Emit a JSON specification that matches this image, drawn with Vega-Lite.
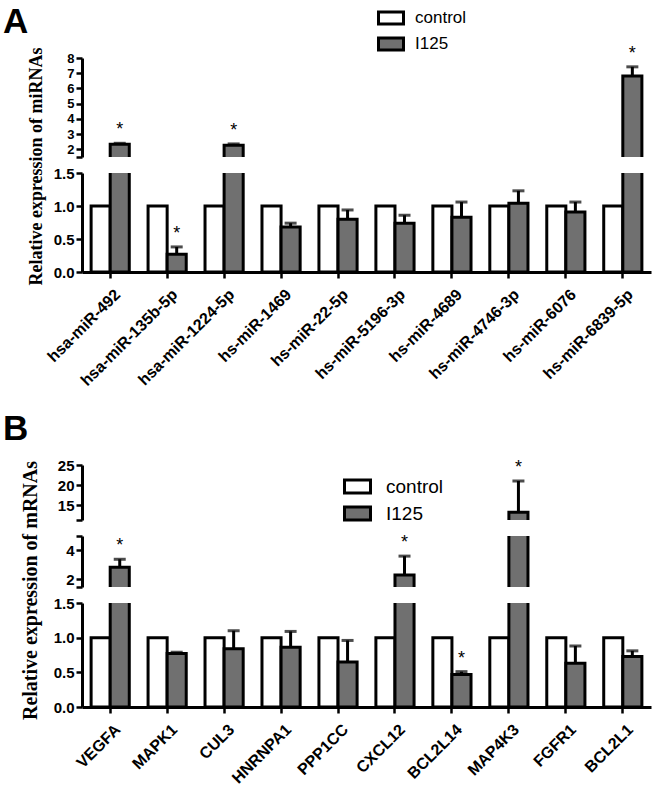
{
"$schema": "https://vega.github.io/schema/vega-lite/v6.json",
"padding": {"left": 3, "top": 4, "right": 2, "bottom": 2},
"config": {
 "view": {"stroke": null},
 "font": "Liberation Sans",
 "axis": {"grid": false, "domainColor": "black", "domainWidth": 3, "tickColor": "black", "tickWidth": 2.5, "tickSize": 6, "labelColor": "black", "labelFont": "Liberation Sans", "labelFontWeight": "bold", "labelFontSize": 15, "labelPadding": 2, "labelOverlap": false, "labelFlush": false}
},
"data": {"values": [
 {"panel": "A", "gene": "hsa-miR-492", "group": "control", "value": 1},
 {"panel": "A", "gene": "hsa-miR-492", "group": "I125", "value": 2.33, "upper": 2.4, "sig": 1},
 {"panel": "A", "gene": "hsa-miR-135b-5p", "group": "control", "value": 1},
 {"panel": "A", "gene": "hsa-miR-135b-5p", "group": "I125", "value": 0.27, "upper": 0.38, "sig": 1},
 {"panel": "A", "gene": "hsa-miR-1224-5p", "group": "control", "value": 1},
 {"panel": "A", "gene": "hsa-miR-1224-5p", "group": "I125", "value": 2.27, "upper": 2.36, "sig": 1},
 {"panel": "A", "gene": "hs-miR-1469", "group": "control", "value": 1},
 {"panel": "A", "gene": "hs-miR-1469", "group": "I125", "value": 0.68, "upper": 0.74},
 {"panel": "A", "gene": "hs-miR-22-5p", "group": "control", "value": 1},
 {"panel": "A", "gene": "hs-miR-22-5p", "group": "I125", "value": 0.8, "upper": 0.94},
 {"panel": "A", "gene": "hs-miR-5196-3p", "group": "control", "value": 1},
 {"panel": "A", "gene": "hs-miR-5196-3p", "group": "I125", "value": 0.74, "upper": 0.86},
 {"panel": "A", "gene": "hs-miR-4689", "group": "control", "value": 1},
 {"panel": "A", "gene": "hs-miR-4689", "group": "I125", "value": 0.83, "upper": 1.06},
 {"panel": "A", "gene": "hs-miR-4746-3p", "group": "control", "value": 1},
 {"panel": "A", "gene": "hs-miR-4746-3p", "group": "I125", "value": 1.04, "upper": 1.23},
 {"panel": "A", "gene": "hs-miR-6076", "group": "control", "value": 1},
 {"panel": "A", "gene": "hs-miR-6076", "group": "I125", "value": 0.91, "upper": 1.06},
 {"panel": "A", "gene": "hs-miR-6839-5p", "group": "control", "value": 1},
 {"panel": "A", "gene": "hs-miR-6839-5p", "group": "I125", "value": 6.81, "upper": 7.42, "sig": 1},
 {"panel": "B", "gene": "VEGFA", "group": "control", "value": 1},
 {"panel": "B", "gene": "VEGFA", "group": "I125", "value": 2.83, "upper": 3.38, "sig": 1},
 {"panel": "B", "gene": "MAPK1", "group": "control", "value": 1},
 {"panel": "B", "gene": "MAPK1", "group": "I125", "value": 0.77, "upper": 0.79},
 {"panel": "B", "gene": "CUL3", "group": "control", "value": 1},
 {"panel": "B", "gene": "CUL3", "group": "I125", "value": 0.84, "upper": 1.1},
 {"panel": "B", "gene": "HNRNPA1", "group": "control", "value": 1},
 {"panel": "B", "gene": "HNRNPA1", "group": "I125", "value": 0.86, "upper": 1.09},
 {"panel": "B", "gene": "PPP1CC", "group": "control", "value": 1},
 {"panel": "B", "gene": "PPP1CC", "group": "I125", "value": 0.65, "upper": 0.96},
 {"panel": "B", "gene": "CXCL12", "group": "control", "value": 1},
 {"panel": "B", "gene": "CXCL12", "group": "I125", "value": 2.28, "upper": 3.6, "sig": 1},
 {"panel": "B", "gene": "BCL2L14", "group": "control", "value": 1},
 {"panel": "B", "gene": "BCL2L14", "group": "I125", "value": 0.47, "upper": 0.51, "sig": 1},
 {"panel": "B", "gene": "MAP4K3", "group": "control", "value": 1},
 {"panel": "B", "gene": "MAP4K3", "group": "I125", "value": 13.2, "upper": 21.0, "sig": 1},
 {"panel": "B", "gene": "FGFR1", "group": "control", "value": 1},
 {"panel": "B", "gene": "FGFR1", "group": "I125", "value": 0.63, "upper": 0.88},
 {"panel": "B", "gene": "BCL2L1", "group": "control", "value": 1},
 {"panel": "B", "gene": "BCL2L1", "group": "I125", "value": 0.73, "upper": 0.81}
]},
"bounds": "flush",
"spacing": 16,
"resolve": {"scale": {"x": "independent", "y": "independent", "fill": "independent"}, "legend": {"fill": "independent"}, "axis": {"x": "independent", "y": "independent"}},
"vconcat": [
 {
  "width": 569, "height": 99,
  "title": {"text": "A", "anchor": "start", "frame": "group", "dx": -79, "offset": -23, "fontSize": 35, "font": "Liberation Sans", "fontWeight": "bold", "color": "black", "baseline": "alphabetic"},
  "transform": [{"filter": "datum.panel == 'A'"}],
  "encoding": {
   "x": {"field": "gene", "type": "nominal", "sort": null, "scale": {"paddingInner": 0.33, "paddingOuter": 0.16}, "axis": null},
   "xOffset": {"field": "group", "type": "nominal", "scale": {"domain": ["control", "I125"]}}
  },
  "layer": [
   {"mark": {"type": "bar", "clip": true, "stroke": "black", "strokeWidth": 3},
    "encoding": {
     "y": {"field": "value", "type": "quantitative", "scale": {"domain": [1.5, 8], "nice": false, "zero": false}, "axis": {"title": null, "values": [1.5, 2, 3, 4, 5, 6, 7, 8], "labelExpr": "datum.value == 1.5 ? '' : datum.label", "labelFontSize": 13}},
     "y2": {"datum": 0},
     "fill": {"field": "group", "type": "nominal", "scale": {"domain": ["control", "I125"], "range": ["#ffffff", "#707070"]}, "legend": null}}},
   {"transform": [{"filter": "datum.group == 'I125'"}],
    "mark": {"type": "rule", "clip": true, "color": "black", "strokeWidth": 3},
    "encoding": {"y": {"field": "value", "type": "quantitative", "axis": {"title": null, "values": [1.5, 2, 3, 4, 5, 6, 7, 8], "labelExpr": "datum.value == 1.5 ? '' : datum.label", "labelFontSize": 13}}, "y2": {"field": "upper"}}},
   {"transform": [{"filter": "datum.group == 'I125'"}],
    "mark": {"type": "tick", "clip": true, "color": "black", "thickness": 3, "size": 12, "orient": "horizontal"},
    "encoding": {"y": {"field": "upper", "type": "quantitative", "axis": {"title": null, "values": [1.5, 2, 3, 4, 5, 6, 7, 8], "labelExpr": "datum.value == 1.5 ? '' : datum.label", "labelFontSize": 13}}}},
   {"transform": [{"filter": "datum.sig == 1 && datum.upper >= 1.5 && datum.upper <= 8"}],
    "mark": {"type": "text", "text": "*", "fontSize": 18, "baseline": "alphabetic", "dy": -8, "font": "Liberation Sans", "color": "black"},
    "encoding": {"y": {"field": "upper", "type": "quantitative", "axis": {"title": null, "values": [1.5, 2, 3, 4, 5, 6, 7, 8], "labelExpr": "datum.value == 1.5 ? '' : datum.label", "labelFontSize": 13}}}}
  ]
 },
 {
  "width": 569, "height": 99,
  "transform": [{"filter": "datum.panel == 'A'"}],
  "encoding": {
   "x": {"field": "gene", "type": "nominal", "sort": null, "scale": {"paddingInner": 0.33, "paddingOuter": 0.16}, "axis": {"title": null, "labelAngle": -45, "labelAlign": "right", "labelBaseline": "top", "labelPadding": 8, "labelOffset": 2, "labelLimit": 0, "labelFontSize": 16}},
   "xOffset": {"field": "group", "type": "nominal", "scale": {"domain": ["control", "I125"]}}
  },
  "layer": [
   {"mark": {"type": "bar", "clip": true, "stroke": "black", "strokeWidth": 3},
    "encoding": {
     "y": {"field": "value", "type": "quantitative", "scale": {"domain": [0, 1.5], "nice": false, "zero": false}, "axis": {"title": "Relative expression of miRNAs", "values": [0, 0.5, 1, 1.5], "format": ".1f", "titleFont": "Liberation Serif", "titleFontSize": 18, "titleFontWeight": "bold", "titleColor": "black", "titleAngle": 270, "titleAlign": "center", "titleBaseline": "middle", "titleX": -46, "titleY": -7}},
     "y2": {"datum": 0},
     "fill": {"field": "group", "type": "nominal", "scale": {"domain": ["control", "I125"], "range": ["#ffffff", "#707070"]},
      "legend": {"title": null, "orient": "none", "legendX": 295, "legendY": -169, "symbolType": "M-1,-0.48H1V0.48H-1Z", "symbolSize": 625, "symbolStrokeColor": "black", "symbolStrokeWidth": 3, "labelFont": "Liberation Sans", "labelFontSize": 17, "labelColor": "black", "labelOffset": 10, "rowPadding": -6, "padding": 0}}}},
   {"transform": [{"filter": "datum.group == 'I125'"}],
    "mark": {"type": "rule", "clip": true, "color": "black", "strokeWidth": 3},
    "encoding": {"y": {"field": "value", "type": "quantitative", "axis": {"title": "Relative expression of miRNAs", "values": [0, 0.5, 1, 1.5], "format": ".1f", "titleFont": "Liberation Serif", "titleFontSize": 18, "titleFontWeight": "bold", "titleColor": "black", "titleAngle": 270, "titleAlign": "center", "titleBaseline": "middle", "titleX": -46, "titleY": -7}}, "y2": {"field": "upper"}}},
   {"transform": [{"filter": "datum.group == 'I125'"}],
    "mark": {"type": "tick", "clip": true, "color": "black", "thickness": 3, "size": 12, "orient": "horizontal"},
    "encoding": {"y": {"field": "upper", "type": "quantitative", "axis": {"title": "Relative expression of miRNAs", "values": [0, 0.5, 1, 1.5], "format": ".1f", "titleFont": "Liberation Serif", "titleFontSize": 18, "titleFontWeight": "bold", "titleColor": "black", "titleAngle": 270, "titleAlign": "center", "titleBaseline": "middle", "titleX": -46, "titleY": -7}}}},
   {"transform": [{"filter": "datum.sig == 1 && datum.upper >= 0 && datum.upper <= 1.5"}],
    "mark": {"type": "text", "text": "*", "fontSize": 18, "baseline": "alphabetic", "dy": -8, "font": "Liberation Sans", "color": "black"},
    "encoding": {"y": {"field": "upper", "type": "quantitative", "axis": {"title": "Relative expression of miRNAs", "values": [0, 0.5, 1, 1.5], "format": ".1f", "titleFont": "Liberation Serif", "titleFontSize": 18, "titleFontWeight": "bold", "titleColor": "black", "titleAngle": 270, "titleAlign": "center", "titleBaseline": "middle", "titleX": -46, "titleY": -7}}}}
  ]
 },
 {
  "width": 569, "height": 161,
  "data": {"values": [{"k": 0}]},
  "mark": {"type": "point", "opacity": 0},
  "encoding": {}
 },
 {
  "width": 569, "height": 55,
  "title": {"text": "B", "anchor": "start", "frame": "group", "dx": -79, "offset": -17, "fontSize": 35, "font": "Liberation Sans", "fontWeight": "bold", "color": "black", "baseline": "alphabetic"},
  "transform": [{"filter": "datum.panel == 'B'"}],
  "encoding": {
   "x": {"field": "gene", "type": "nominal", "sort": null, "scale": {"paddingInner": 0.33, "paddingOuter": 0.16}, "axis": null},
   "xOffset": {"field": "group", "type": "nominal", "scale": {"domain": ["control", "I125"]}}
  },
  "layer": [
   {"mark": {"type": "bar", "clip": true, "stroke": "black", "strokeWidth": 3},
    "encoding": {
     "y": {"field": "value", "type": "quantitative", "scale": {"domain": [11.25, 25], "nice": false, "zero": false}, "axis": {"title": null, "values": [11.25, 15, 20, 25], "labelExpr": "datum.value == 11.25 ? '' : datum.label"}},
     "y2": {"datum": 0},
     "fill": {"field": "group", "type": "nominal", "scale": {"domain": ["control", "I125"], "range": ["#ffffff", "#707070"]}, "legend": null}}},
   {"transform": [{"filter": "datum.group == 'I125'"}],
    "mark": {"type": "rule", "clip": true, "color": "black", "strokeWidth": 3},
    "encoding": {"y": {"field": "value", "type": "quantitative", "axis": {"title": null, "values": [11.25, 15, 20, 25], "labelExpr": "datum.value == 11.25 ? '' : datum.label"}}, "y2": {"field": "upper"}}},
   {"transform": [{"filter": "datum.group == 'I125'"}],
    "mark": {"type": "tick", "clip": true, "color": "black", "thickness": 3, "size": 12, "orient": "horizontal"},
    "encoding": {"y": {"field": "upper", "type": "quantitative", "axis": {"title": null, "values": [11.25, 15, 20, 25], "labelExpr": "datum.value == 11.25 ? '' : datum.label"}}}},
   {"transform": [{"filter": "datum.sig == 1 && datum.upper >= 11.25 && datum.upper <= 25"}],
    "mark": {"type": "text", "text": "*", "fontSize": 18, "baseline": "alphabetic", "dy": -8, "font": "Liberation Sans", "color": "black"},
    "encoding": {"y": {"field": "upper", "type": "quantitative", "axis": {"title": null, "values": [11.25, 15, 20, 25], "labelExpr": "datum.value == 11.25 ? '' : datum.label"}}}}
  ]
 },
 {
  "width": 569, "height": 51,
  "transform": [{"filter": "datum.panel == 'B'"}],
  "encoding": {
   "x": {"field": "gene", "type": "nominal", "sort": null, "scale": {"paddingInner": 0.33, "paddingOuter": 0.16}, "axis": null},
   "xOffset": {"field": "group", "type": "nominal", "scale": {"domain": ["control", "I125"]}}
  },
  "layer": [
   {"mark": {"type": "bar", "clip": true, "stroke": "black", "strokeWidth": 3},
    "encoding": {
     "y": {"field": "value", "type": "quantitative", "scale": {"domain": [1.45, 5], "nice": false, "zero": false}, "axis": {"title": null, "values": [1.45, 2, 4, 5], "labelExpr": "datum.value == 2 || datum.value == 4 ? datum.label : ''"}},
     "y2": {"datum": 0},
     "fill": {"field": "group", "type": "nominal", "scale": {"domain": ["control", "I125"], "range": ["#ffffff", "#707070"]},
      "legend": {"title": null, "orient": "none", "legendX": 261, "legendY": -64, "symbolType": "M-1,-0.5H1V0.5H-1Z", "symbolSize": 676, "symbolStrokeColor": "black", "symbolStrokeWidth": 3, "labelFont": "Liberation Sans", "labelFontSize": 19, "labelColor": "black", "labelOffset": 14, "rowPadding": -5, "padding": 0}}}},
   {"transform": [{"filter": "datum.group == 'I125'"}],
    "mark": {"type": "rule", "clip": true, "color": "black", "strokeWidth": 3},
    "encoding": {"y": {"field": "value", "type": "quantitative", "axis": {"title": null, "values": [1.45, 2, 4, 5], "labelExpr": "datum.value == 2 || datum.value == 4 ? datum.label : ''"}}, "y2": {"field": "upper"}}},
   {"transform": [{"filter": "datum.group == 'I125'"}],
    "mark": {"type": "tick", "clip": true, "color": "black", "thickness": 3, "size": 12, "orient": "horizontal"},
    "encoding": {"y": {"field": "upper", "type": "quantitative", "axis": {"title": null, "values": [1.45, 2, 4, 5], "labelExpr": "datum.value == 2 || datum.value == 4 ? datum.label : ''"}}}},
   {"transform": [{"filter": "datum.sig == 1 && datum.upper >= 1.45 && datum.upper <= 5"}],
    "mark": {"type": "text", "text": "*", "fontSize": 18, "baseline": "alphabetic", "dy": -8, "font": "Liberation Sans", "color": "black"},
    "encoding": {"y": {"field": "upper", "type": "quantitative", "axis": {"title": null, "values": [1.45, 2, 4, 5], "labelExpr": "datum.value == 2 || datum.value == 4 ? datum.label : ''"}}}}
  ]
 },
 {
  "width": 569, "height": 104,
  "transform": [{"filter": "datum.panel == 'B'"}],
  "encoding": {
   "x": {"field": "gene", "type": "nominal", "sort": null, "scale": {"paddingInner": 0.33, "paddingOuter": 0.16}, "axis": {"title": null, "labelAngle": -45, "labelAlign": "right", "labelBaseline": "top", "labelPadding": 8, "labelOffset": 2, "labelLimit": 0, "labelFontSize": 16}},
   "xOffset": {"field": "group", "type": "nominal", "scale": {"domain": ["control", "I125"]}}
  },
  "layer": [
   {"mark": {"type": "bar", "clip": true, "stroke": "black", "strokeWidth": 3},
    "encoding": {
     "y": {"field": "value", "type": "quantitative", "scale": {"domain": [0, 1.5], "nice": false, "zero": false}, "axis": {"title": "Relative expression of mRNAs", "values": [0, 0.5, 1, 1.5], "format": ".1f", "titleFont": "Liberation Serif", "titleFontSize": 20, "titleFontWeight": "bold", "titleColor": "black", "titleAngle": 270, "titleAlign": "center", "titleBaseline": "middle", "titleX": -52, "titleY": -13}},
     "y2": {"datum": 0},
     "fill": {"field": "group", "type": "nominal", "scale": {"domain": ["control", "I125"], "range": ["#ffffff", "#707070"]}, "legend": null}}},
   {"transform": [{"filter": "datum.group == 'I125'"}],
    "mark": {"type": "rule", "clip": true, "color": "black", "strokeWidth": 3},
    "encoding": {"y": {"field": "value", "type": "quantitative", "axis": {"title": "Relative expression of mRNAs", "values": [0, 0.5, 1, 1.5], "format": ".1f", "titleFont": "Liberation Serif", "titleFontSize": 20, "titleFontWeight": "bold", "titleColor": "black", "titleAngle": 270, "titleAlign": "center", "titleBaseline": "middle", "titleX": -52, "titleY": -13}}, "y2": {"field": "upper"}}},
   {"transform": [{"filter": "datum.group == 'I125'"}],
    "mark": {"type": "tick", "clip": true, "color": "black", "thickness": 3, "size": 12, "orient": "horizontal"},
    "encoding": {"y": {"field": "upper", "type": "quantitative", "axis": {"title": "Relative expression of mRNAs", "values": [0, 0.5, 1, 1.5], "format": ".1f", "titleFont": "Liberation Serif", "titleFontSize": 20, "titleFontWeight": "bold", "titleColor": "black", "titleAngle": 270, "titleAlign": "center", "titleBaseline": "middle", "titleX": -52, "titleY": -13}}}},
   {"transform": [{"filter": "datum.sig == 1 && datum.upper >= 0 && datum.upper <= 1.5"}],
    "mark": {"type": "text", "text": "*", "fontSize": 18, "baseline": "alphabetic", "dy": -8, "font": "Liberation Sans", "color": "black"},
    "encoding": {"y": {"field": "upper", "type": "quantitative", "axis": {"title": "Relative expression of mRNAs", "values": [0, 0.5, 1, 1.5], "format": ".1f", "titleFont": "Liberation Serif", "titleFontSize": 20, "titleFontWeight": "bold", "titleColor": "black", "titleAngle": 270, "titleAlign": "center", "titleBaseline": "middle", "titleX": -52, "titleY": -13}}}}
  ]
 }
]
}
